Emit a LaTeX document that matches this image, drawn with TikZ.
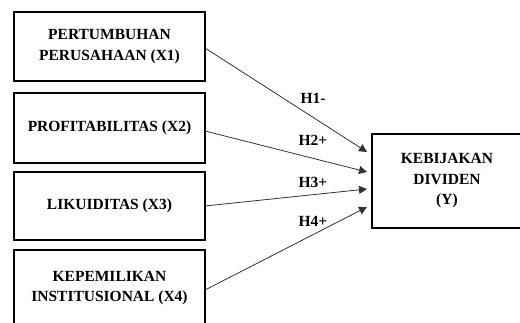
\documentclass[tikz,border=0pt]{standalone}
\usepackage{fontspec}
\setmainfont{Liberation Serif}
\usetikzlibrary{arrows.meta}
\begin{document}
\begin{tikzpicture}[x=1pt,y=-1pt,
  varbox/.style={draw, line width=1.6pt, inner sep=0pt},
  boxtext/.style={font=\fontsize{15.5}{20.5}\selectfont\bfseries, align=center},
  link/.style={draw=black!80, line width=0.8pt, -{Triangle[length=8pt,width=8pt]}},
  hyp/.style={font=\fontsize{15.5}{18}\selectfont\bfseries, anchor=base}]
\useasboundingbox (0,0) rectangle (520,323);
% boxes
\path[varbox] (14,12) rectangle (205,81);
\path[varbox] (14,93) rectangle (205,163);
\path[varbox] (14,172) rectangle (205,240);
\path[varbox] (14,250) rectangle (205,326);
\path[varbox] (372,134) rectangle (522,228);
% box nodes (text)
\node[boxtext, minimum width=191pt, minimum height=69pt] (x1) at (109.5,46.5) {PERTUMBUHAN\\PERUSAHAAN (X1)};
\node[boxtext, minimum width=191pt, minimum height=70pt] (x2) at (109.5,128) {PROFITABILITAS (X2)};
\node[boxtext, minimum width=191pt, minimum height=68pt] (x3) at (109.5,206) {LIKUIDITAS (X3)};
\node[boxtext, minimum width=191pt] (x4) at (109.5,288) {KEPEMILIKAN\\INSTITUSIONAL (X4)};
\node[boxtext, minimum width=150pt, minimum height=94pt] (y) at (447,181) {KEBIJAKAN\\DIVIDEN\\(Y)};
% arrow tips
\coordinate (t1) at (367,152);
\coordinate (t2) at (367,172);
\coordinate (t3) at (367,189);
\coordinate (t4) at (367,207);
\coordinate (s1) at (205,48);
\coordinate (s2) at (205,131);
\coordinate (s3) at (205,206);
\coordinate (s4) at (205,290);
\draw[link] (s1) -- (t1);
\draw[link] (s2) -- (t2);
\draw[link] (s3) -- (t3);
\draw[link] (s4) -- (t4);
% labels
\node[hyp] (h1) at (313,104) {H1-};
\node[hyp] (h2) at (313,146) {H2+};
\node[hyp] (h3) at (313,188) {H3+};
\node[hyp] (h4) at (313,227) {H4+};
\end{tikzpicture}
\end{document}
